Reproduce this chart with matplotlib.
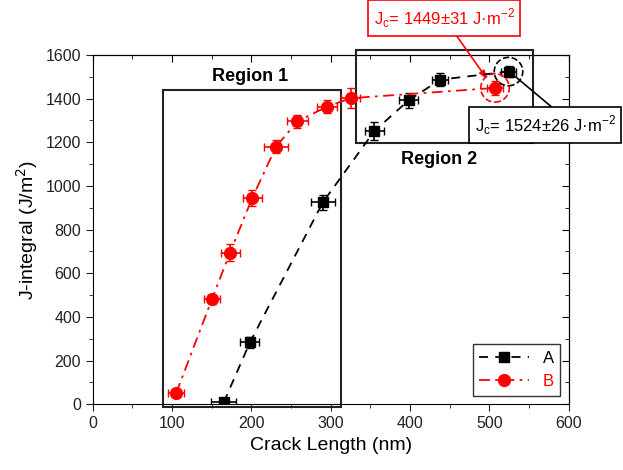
import matplotlib.pyplot as plt
from matplotlib.patches import Rectangle, Ellipse
from matplotlib.lines import Line2D
from matplotlib.ticker import MultipleLocator

plt.rcParams['font.family'] = ['Liberation Sans', 'DejaVu Sans']

# series A (black squares)
a_x = [165, 198, 290, 355, 398, 438, 524]
a_y = [8, 283, 925, 1252, 1392, 1487, 1524]
a_xerr = [16, 12, 15, 12, 12, 10, 10]
a_yerr = [15, 25, 35, 40, 35, 30, 26]

# series B (red circles)
b_x = [105, 150, 173, 201, 231, 258, 295, 325, 507]
b_y = [50, 480, 695, 945, 1180, 1296, 1363, 1402, 1449]
b_xerr = [10, 10, 12, 12, 15, 13, 13, 12, 10]
b_yerr = [15, 20, 40, 35, 30, 30, 30, 45, 31]

a_style = (0, (5, 4))
b_style = (0, (6, 3, 1.5, 3))

fig = plt.figure(figsize=(6.23, 4.70), dpi=100)
ax = fig.add_axes([0.149, 0.140, 0.764, 0.743])

ax.errorbar(a_x, a_y, xerr=a_xerr, yerr=a_yerr, color='black', marker='s',
            markersize=7.5, linestyle=a_style, linewidth=1.3, capsize=3,
            elinewidth=1.2, zorder=4)
ax.errorbar(b_x, b_y, xerr=b_xerr, yerr=b_yerr, color='red', marker='o',
            markersize=8.5, linestyle=b_style, linewidth=1.3, capsize=3,
            elinewidth=1.2, zorder=5)

ax.set_xlim(0, 600)
ax.set_ylim(0, 1600)
ax.xaxis.set_major_locator(MultipleLocator(100))
ax.xaxis.set_minor_locator(MultipleLocator(50))
ax.yaxis.set_major_locator(MultipleLocator(200))
ax.yaxis.set_minor_locator(MultipleLocator(100))
ax.tick_params(which='both', direction='out', labelsize=11.5, colors='#222222')
ax.tick_params(which='major', length=5)
ax.tick_params(which='minor', length=3)
ax.set_xlabel('Crack Length (nm)', fontsize=14)
ax.set_ylabel('J-integral (J/m$^2$)', fontsize=14)

# inward ticks on top and right
top = ax.secondary_xaxis('top')
top.xaxis.set_major_locator(MultipleLocator(100))
top.xaxis.set_minor_locator(MultipleLocator(50))
top.tick_params(which='both', direction='in', labeltop=False)
top.tick_params(which='major', length=5)
top.tick_params(which='minor', length=3)
right = ax.secondary_yaxis('right')
right.yaxis.set_major_locator(MultipleLocator(200))
right.yaxis.set_minor_locator(MultipleLocator(100))
right.tick_params(which='both', direction='in', labelright=False)
right.tick_params(which='major', length=5)
right.tick_params(which='minor', length=3)

# region boxes
ax.add_patch(Rectangle((88, -15), 225, 1455, fill=False, edgecolor='#222222',
                       linewidth=1.5, clip_on=False, zorder=3))
ax.add_patch(Rectangle((332, 1197), 223, 427, fill=False, edgecolor='#222222',
                       linewidth=1.5, clip_on=False, zorder=3))
ax.text(198, 1500, 'Region 1', fontsize=13, fontweight='bold', ha='center', va='center')
ax.text(437, 1120, 'Region 2', fontsize=13, fontweight='bold', ha='center', va='center')

# dashed circles around critical points (round on screen)
ax.add_patch(Ellipse((507, 1449), width=36, height=130, fill=False,
                     edgecolor='red', linestyle='--', linewidth=1.2, zorder=6))
ax.add_patch(Ellipse((524, 1524), width=36, height=130, fill=False,
                     edgecolor='black', linestyle='--', linewidth=1.2, zorder=6))

ax.annotate('J$_\\mathregular{c}$= 1449±31 J·m$^\\mathregular{-2}$', xy=(497, 1490),
            xytext=(444, 452), textcoords='figure pixels', fontsize=12, color='red',
            ha='center', va='center', annotation_clip=False,
            bbox=dict(boxstyle='square,pad=0.35', fc='white', ec='red', lw=1.2),
            arrowprops=dict(arrowstyle='-|>,head_length=0.4,head_width=0.15',
                            color='red', lw=1.2, shrinkA=0, shrinkB=0))
ax.annotate('J$_\\mathregular{c}$= 1524±26 J·m$^\\mathregular{-2}$', xy=(533, 1500),
            xytext=(545, 345), textcoords='figure pixels', fontsize=12, color='black',
            ha='center', va='center', annotation_clip=False,
            bbox=dict(boxstyle='square,pad=0.35', fc='white', ec='black', lw=1.2),
            arrowprops=dict(arrowstyle='-', color='black', lw=1.2, shrinkA=0, shrinkB=0,
                            relpos=(0.6, 1.0)))

handles = [Line2D([], [], color='black', marker='s', markersize=7.5, linestyle=a_style, lw=1.3),
           Line2D([], [], color='red', marker='o', markersize=8.5, linestyle=b_style, lw=1.3)]
leg = ax.legend(handles, ['A', 'B'], loc='lower right', fontsize=12, frameon=True,
                fancybox=False, edgecolor='black', handlelength=3, borderaxespad=0.5)
leg.get_frame().set_linewidth(1.0)
leg.get_texts()[1].set_color('red')

fig.savefig('out.png', dpi=100)
